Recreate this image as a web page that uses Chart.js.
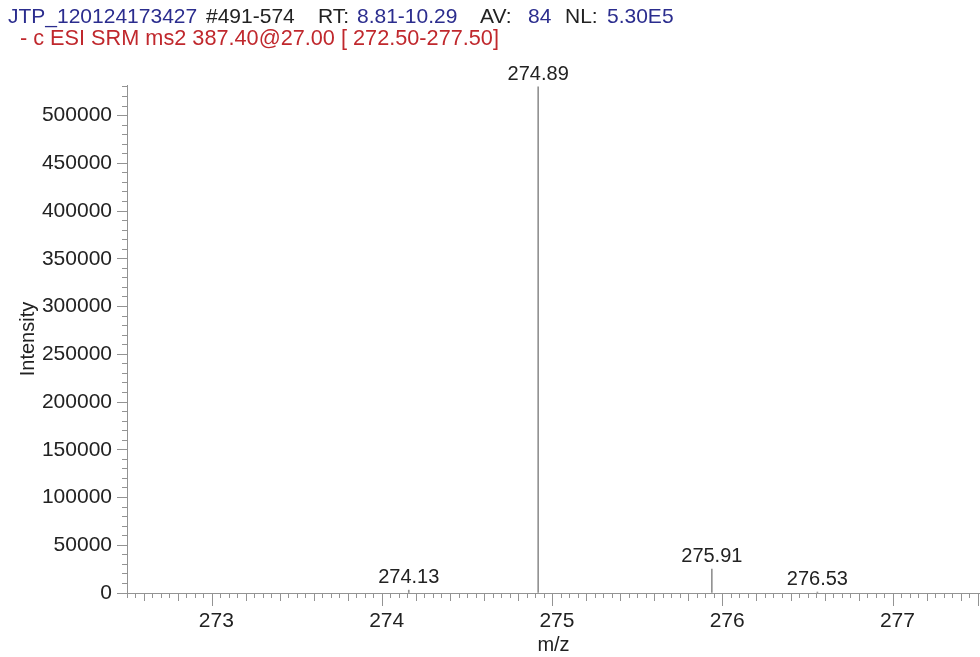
<!DOCTYPE html>
<html>
<head>
<meta charset="utf-8">
<script src="https://cdn.jsdelivr.net/npm/chart.js@4/dist/chart.umd.min.js"></script>
<style>
  body { margin: 0; background: #fff; }
  #wrap { position: relative; width: 980px; height: 657px; }
  #head { position: absolute; left: 0; top: 0; font-family: "Liberation Sans", Arial, sans-serif; font-size: 21px; white-space: pre; }
  #head span { position: absolute; }
  .blue { color: #2b2d8e; }
  .black { color: #222; }
  .red { color: #c0282d; font-size: 21.7px; }
</style>
</head>
<body>
<div id="wrap">
  <canvas id="spectre" width="980" height="657"></canvas>
  <div id="head">
    <span class="blue" style="left:8px;top:4px">JTP_120124173427</span>
    <span class="black" style="left:206px;top:4px">#491-574</span>
    <span class="black" style="left:318px;top:4px">RT:</span>
    <span class="blue" style="left:357px;top:4px">8.81-10.29</span>
    <span class="black" style="left:480px;top:4px">AV:</span>
    <span class="blue" style="left:528px;top:4px">84</span>
    <span class="black" style="left:565px;top:4px">NL:</span>
    <span class="blue" style="left:607px;top:4px">5.30E5</span>
    <span class="red" style="left:20px;top:25px">- c ESI SRM ms2 387.40@27.00 [ 272.50-277.50]</span>
  </div>
</div>
<script>
// Pics du spectre (m/z, intensité)
const peakMz = [274.13, 274.89, 275.91, 276.53];
const peakIntensity = [3000, 530000, 25000, 1000];
const peakLabels = ['274.13', '274.89', '275.91', '276.53'];

// Axes
const xMin = 272.5;
const xMax = 277.46;
const xMinorStep = 0.05;
const xMajorTicks = [273, 274, 275, 276, 277];
const yMax = 532000;
const yMinorStep = 10000;
const yMajorStep = 50000;
const yTopTick = 530000;

const axisGray = '#939393';
const textDark = '#222';
const font = 'Liberation Sans';

function estMultiple(v, pas) {
    return Math.abs(v / pas - Math.round(v / pas)) < 1e-6;
}

function estMajeurX(v) {
    return xMajorTicks.some(m => Math.abs(m - v) < 1e-6);
}

const xTicks = [];
for (let k = 0; xMin + k * xMinorStep <= xMax + 1e-9; k++) {
    xTicks.push(Math.round((xMin + k * xMinorStep) * 100) / 100);
}
const yTicks = [];
for (let v = 0; v <= yTopTick; v += yMinorStep) {
    yTicks.push(v);
}

// Étiquettes au-dessus de chaque pic
const peakLabelPlugin = {
    id: 'peakLabels',
    afterDatasetsDraw(chart) {
        const ctx = chart.ctx;
        const meta = chart.getDatasetMeta(0);
        ctx.save();
        ctx.font = '20px "' + font + '"';
        ctx.fillStyle = textDark;
        ctx.textAlign = 'center';
        ctx.textBaseline = 'alphabetic';
        meta.data.forEach((bar, i) => {
            ctx.fillText(peakLabels[i], bar.x, bar.y - 7);
        });
        ctx.restore();
    }
};

new Chart(document.getElementById('spectre'), {
    type: 'bar',
    data: {
        datasets: [{
            data: peakMz.map((mz, i) => ({ x: mz, y: peakIntensity[i] })),
            backgroundColor: axisGray,
            borderWidth: 0,
            barThickness: 1,
        }],
    },
    options: {
        responsive: false,
        animation: false,
        layout: { padding: { top: 85, left: 0, right: 0, bottom: 0 } },
        plugins: {
            legend: { display: false },
            tooltip: { enabled: false },
        },
        scales: {
            x: {
                type: 'linear',
                min: xMin,
                max: xMax,
                afterBuildTicks: (scale) => { scale.ticks = xTicks.map(v => ({ value: v })); },
                afterFit: (scale) => { scale.height = 64; },
                border: { color: axisGray, width: 1 },
                grid: {
                    drawOnChartArea: false,
                    drawTicks: true,
                    tickLength: 13,
                    tickColor: axisGray,
                    // longueur de chaque graduation : majeure, moyenne (0.2) ou mineure
                    tickBorderDash: (c) => {
                        if (!c.tick) return [];
                        const v = c.tick.value;
                        if (estMajeurX(v)) return [];
                        return estMultiple(v, 0.2) ? [7, 100] : [4, 100];
                    },
                },
                ticks: {
                    autoSkip: false,
                    maxRotation: 0,
                    padding: 3,
                    color: textDark,
                    font: { family: font, size: 21 },
                    callback: (v) => estMajeurX(v) ? String(Math.round(v)) : '',
                },
                title: {
                    display: true,
                    text: 'm/z',
                    color: textDark,
                    font: { family: font, size: 20 },
                    padding: { top: -5, bottom: 0 },
                },
            },
            y: {
                min: 0,
                max: yMax,
                afterBuildTicks: (scale) => { scale.ticks = yTicks.map(v => ({ value: v })); },
                afterFit: (scale) => { scale.width = 127; },
                border: { color: axisGray, width: 1 },
                grid: {
                    drawOnChartArea: false,
                    drawTicks: true,
                    tickLength: 10,
                    tickColor: axisGray,
                    tickBorderDash: (c) => (!c.tick || estMultiple(c.tick.value, yMajorStep)) ? [] : [0, 5, 5, 100],
                },
                ticks: {
                    autoSkip: false,
                    padding: 5,
                    color: textDark,
                    font: { family: font, size: 21 },
                    callback: (v) => estMultiple(v, yMajorStep) ? String(v) : '',
                },
                title: {
                    display: true,
                    text: 'Intensity',
                    color: textDark,
                    font: { family: font, size: 20 },
                    padding: { top: 16, bottom: 0 },
                },
            },
        },
    },
    plugins: [peakLabelPlugin],
});
</script>
</body>
</html>
